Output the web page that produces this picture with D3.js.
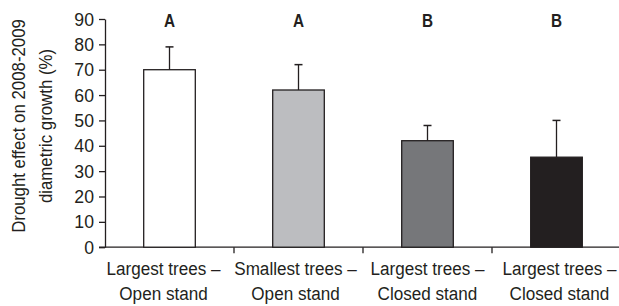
<!DOCTYPE html>
<html><head><meta charset="utf-8">
<script src="https://cdn.jsdelivr.net/npm/d3@7"></script>
<style>
body{margin:0;background:#fff;}
text{font-family:"Liberation Sans",Arial,sans-serif;fill:#231f20;}
</style></head>
<body>
<svg id="chart" width="619" height="306"></svg>
<script>
const categoriesLine1 = ["Largest trees \u2013", "Smallest trees \u2013", "Largest trees \u2013", "Largest trees \u2013"];
const categoriesLine2 = ["Open stand", "Open stand", "Closed stand", "Closed stand"];
const values = [70, 62, 42, 35.5];
const errorTops = [79, 72, 48, 50];
const letters = ["A", "A", "B", "B"];
const fills = ["#ffffff", "#bcbdc0", "#76777a", "#231f20"];
const yTicks = [0,10,20,30,40,50,60,70,80,90];
const yTitle = ["Drought effect on 2008-2009", "diametric growth (%)"];

const svg = d3.select("#chart");
const left = 105, right = 621;
const ink = "#231f20";
const FS = 19, SX = 0.9;
const x = d3.scaleBand().domain(d3.range(4)).range([left, right]).paddingInner(0.6).paddingOuter(0.3);
const xb = d3.scaleBand().domain(d3.range(4)).range([left, right]);
const xl = d3.scalePoint().domain(d3.range(4)).range([163.5, 559.5]);
const y = d3.scaleLinear().domain([0,90]).range([247.2, 19]);

// y axis
const yAxis = d3.axisLeft(y).tickValues(yTicks).tickSize(6).tickPadding(4).tickSizeOuter(0);
const gy = svg.append("g").attr("transform",`translate(${left},0)`).call(yAxis);
gy.select(".domain").attr("stroke",ink).attr("stroke-width",1.3);
gy.selectAll(".tick line").attr("stroke",ink).attr("stroke-width",1.3);
gy.selectAll(".tick text").attr("font-size",FS).attr("font-family",null).style("fill",ink)
  .attr("x",0).attr("transform",`translate(-11,0) scale(0.93,1)`);

// x axis with category boundary ticks
const gx = svg.append("g");
gx.append("line").attr("x1",left-6).attr("x2",right).attr("y1",y(0)).attr("y2",y(0)).attr("stroke",ink).attr("stroke-width",1.3);
gx.selectAll(".bt").data(d3.range(1,4)).join("line")
  .attr("x1",d=>xb(d)).attr("x2",d=>xb(d))
  .attr("y1",y(0)).attr("y2",y(0)+6).attr("stroke",ink).attr("stroke-width",1.3);

// bars
svg.selectAll(".bar").data(values).join("rect")
  .attr("x",(d,i)=>x(i)).attr("width",x.bandwidth())
  .attr("y",d=>y(d)).attr("height",d=>y(0)-y(d))
  .attr("fill",(d,i)=>fills[i]).attr("stroke",ink).attr("stroke-width",1.3);

// error bars
const cx = i => x(i)+x.bandwidth()/2;
svg.selectAll(".err").data(errorTops).join("line")
  .attr("x1",(d,i)=>cx(i)).attr("x2",(d,i)=>cx(i))
  .attr("y1",(d,i)=>y(values[i])).attr("y2",d=>y(d))
  .attr("stroke",ink).attr("stroke-width",1.3);
svg.selectAll(".cap").data(errorTops).join("line")
  .attr("x1",(d,i)=>cx(i)-4).attr("x2",(d,i)=>cx(i)+4)
  .attr("y1",d=>y(d)).attr("y2",d=>y(d))
  .attr("stroke",ink).attr("stroke-width",1.5);

// significance letters
svg.selectAll(".let").data(letters).join("text")
  .attr("transform",(d,i)=>`translate(${cx(i)},27.3) scale(0.85,1)`).attr("text-anchor","middle")
  .attr("font-size",18).attr("font-weight","bold").text(d=>d);

// x labels
svg.selectAll(".xl1").data(categoriesLine1).join("text")
  .attr("transform",(d,i)=>`translate(${xl(i)},275) scale(${SX},1)`).attr("text-anchor","middle").attr("font-size",FS).text(d=>d);
svg.selectAll(".xl2").data(categoriesLine2).join("text")
  .attr("transform",(d,i)=>`translate(${xl(i)},299.5) scale(${SX},1)`).attr("text-anchor","middle").attr("font-size",FS).text(d=>d);

// y title
const ty = svg.append("text").attr("transform",`translate(0,126) rotate(-90) scale(0.885,1)`)
  .attr("text-anchor","middle").attr("font-size",FS);
ty.append("tspan").attr("x",0).attr("y",25).text(yTitle[0]);
ty.append("tspan").attr("x",0).attr("y",52).text(yTitle[1]);
</script>
</body></html>
